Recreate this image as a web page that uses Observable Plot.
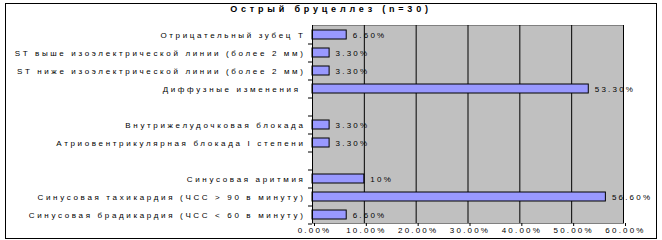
<!DOCTYPE html>
<html>
<head>
<meta charset="utf-8">
<script src="https://cdn.jsdelivr.net/npm/d3@7"></script>
<script src="https://cdn.jsdelivr.net/npm/@observablehq/plot@0.6"></script>
<style>
  body { margin: 0; background: #fff; }
  #wrap { position: relative; width: 662px; height: 240px; }
  #border { position: absolute; left: 5px; top: 3px; width: 652px; height: 236px; box-sizing: border-box; border: 1.5px solid #000; pointer-events: none; }
  #title { position: absolute; top: 4px; left: 0; width: 662px; text-align: center; font: bold 9px "Liberation Sans", Arial, sans-serif; letter-spacing: 3.8px; color: #000; }
  svg { position: absolute; left: 0; top: 0; }
  .chart text { letter-spacing: 2.2px; }
  .chart g[aria-label="y-axis tick label"] text { letter-spacing: 2.65px; }
</style>
</head>
<body>
<div id="wrap">
  <div id="title"></div>
  <div id="border"></div>
</div>
<script>
const title = "Острый бруцеллез (n=30)";
const categories = [
  "Отрицательный зубец Т",
  "ST выше изоэлектрической линии (более 2 мм)",
  "ST ниже изоэлектрической линии (более 2 мм)",
  "Диффузные изменения ",
  " ",
  "Внутрижелудочковая блокада",
  "Атриовентрикулярная блокада I степени",
  "  ",
  "Синусовая аритмия",
  "Синусовая тахикардия (ЧСС > 90 в минуту)",
  "Синусовая брадикардия (ЧСС < 60 в минуту)"
];
const values = [6.6, 3.3, 3.3, 53.3, null, 3.3, 3.3, null, 10, 56.6, 6.6];
const valueLabels = ["6.60%", "3.30%", "3.30%", "53.30%", "", "3.30%", "3.30%", "", "10%", "56.60%", "6.60%"];
const xTicks = [0, 10, 20, 30, 40, 50, 60];

document.getElementById("title").textContent = title;

const data = categories.map((c, i) => ({cat: c, value: values[i], label: valueLabels[i]}))
  .filter(d => d.value != null);

const chart = Plot.plot({
  width: 662,
  height: 240,
  marginLeft: 312,
  marginRight: 39,
  marginTop: 25,
  marginBottom: 17,
  className: "chart",
  style: {fontFamily: "'Liberation Sans', Arial, sans-serif", fontSize: "8px", color: "#000", background: "transparent"},
  x: {domain: [0, 60]},
  y: {domain: categories, paddingInner: 0.5, paddingOuter: 0.25},
  marks: [
    Plot.frame({fill: "#c0c0c0", stroke: "#808080"}),
    Plot.gridX(xTicks, {stroke: "#000", strokeOpacity: 1}),
    Plot.barX(data, {y: "cat", x: "value", fill: "#9999ff", stroke: "#000", strokeWidth: 1}),
    Plot.text(data, {y: "cat", x: "value", text: "label", textAnchor: "start", dx: 6, fill: "#000"}),
    Plot.ruleX([0], {stroke: "#000"}),
    Plot.axisX({ticks: xTicks, tickSize: 3, tickPadding: 1, tickFormat: d => d.toFixed(2) + "%", dx: 2, label: null}),
    Plot.axisY({tickSize: 4, tickFormat: () => "", dy: 9, label: null}),
    Plot.axisY({tickSize: 0, tickPadding: 7, label: null})
  ]
});
document.getElementById("wrap").insertBefore(chart, document.getElementById("title"));
</script>
</body>
</html>
